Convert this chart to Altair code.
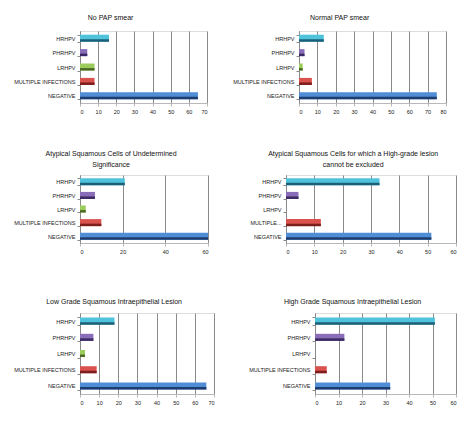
import altair as alt
import pandas as pd

categories = ["HRHPV", "PHRHPV", "LRHPV", "MULTIPLE INFECTIONS", "NEGATIVE"]
light_colors = ["#4fc3dc", "#8a6db8", "#9ccc5c", "#d9524e", "#4f8ed6"]
dark_colors = ["#1c5f78", "#3b2a63", "#4c6a25", "#7d1e1c", "#1e3c6e"]

titles = [
    ["No PAP smear"],
    ["Normal PAP smear"],
    ["Atypical Squamous Cells of Undetermined", "Significance"],
    ["Atypical Squamous Cells for which a High-grade lesion", "cannot be excluded"],
    ["Low Grade Squamous Intraepithelial Lesion"],
    ["High Grade Squamous Intraepithelial Lesion"],
]
no_pap = [16, 4, 8, 8, 65]
normal_pap = [13.5, 3, 2, 7, 75]
ascus = [21, 7, 2.7, 10, 60]
asch = [33, 4.4, 0, 12.3, 51.3]
lsil = [18, 7, 2.6, 8.7, 66]
hsil = [51, 12.5, 0, 5, 32]
panel_values = [no_pap, normal_pap, ascus, asch, lsil, hsil]
x_max = [70, 80, 60, 60, 70, 60]
x_step = [10, 10, 20, 10, 10, 10]
widths = [127, 147, 128, 170, 134, 141]
heights = [72, 72, 68, 68, 81, 81]

FONT = "Liberation Sans, Arial, sans-serif"


def panel(i):
    df = pd.DataFrame({"category": categories, "value": panel_values[i]})
    ticks = list(range(0, x_max[i] + 1, x_step[i]))
    label_expr = "datum.label"
    if i == 3:
        label_expr = "datum.label == 'MULTIPLE INFECTIONS' ? 'MULTIPLE...' : datum.label"
    y = alt.Y(
        "category:N",
        sort=categories,
        title=None,
        scale=alt.Scale(paddingInner=0.5, paddingOuter=0.25),
        axis=alt.Axis(
            labelFont=FONT,
            labelFontSize=5.5,
            labelColor="#222222",
            domainColor="#8a8a8a",
            tickColor="#8a8a8a",
            tickBand="extent",
            tickSize=3,
            labelPadding=2,
            labelExpr=label_expr,
        ),
    )
    x = alt.X(
        "value:Q",
        title=None,
        scale=alt.Scale(domain=[0, x_max[i]], nice=False),
        axis=alt.Axis(
            values=ticks,
            labelFont=FONT,
            labelFontSize=5.5,
            labelColor="#222222",
            grid=True,
            gridColor="#8a8a8a",
            gridWidth=1,
            domainColor="#b8b8b8",
            tickColor="#b8b8b8",
            tickSize=3,
            labelPadding=3,
        ),
    )
    base = alt.Chart(df)
    top = base.mark_bar(size=7).encode(
        x=x,
        y=y,
        color=alt.Color("category:N", scale=alt.Scale(domain=categories, range=light_colors), legend=None),
    )
    bottom = base.mark_bar(size=2.5, yOffset=2.3).encode(
        x=x,
        y=y,
        color=alt.Color("category:N", scale=alt.Scale(domain=categories, range=dark_colors), legend=None),
    )
    return (top + bottom).properties(
        width=widths[i],
        height=heights[i],
        title=alt.TitleParams(
            titles[i],
            font=FONT,
            fontSize=7,
            fontWeight="normal",
            color="#111111",
            offset=8 if i < 2 else (5 if i < 4 else 6),
            lineHeight=11,
            frame="bounds",
            anchor="middle",
        ),
    ).resolve_scale(color="independent")


row1 = alt.hconcat(panel(0), panel(1), spacing=24)
row2 = alt.hconcat(panel(2), panel(3), spacing=40)
row3 = alt.hconcat(panel(4), panel(5), spacing=33)

chart = alt.vconcat(
    alt.vconcat(row1, row2, spacing=34),
    row3,
    spacing=42,
).configure_view(stroke=None).configure(background="white")

chart.save("out.html", embed_options={"renderer": "svg", "actions": False})
